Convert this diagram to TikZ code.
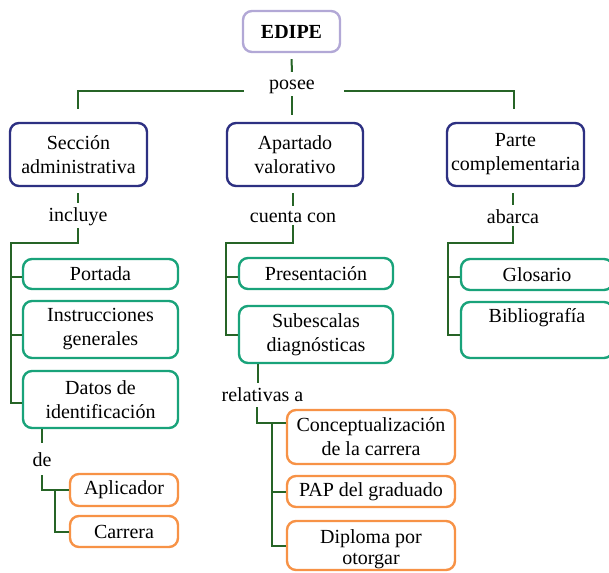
\documentclass[tikz,border=0pt]{standalone}
\usepackage{fontspec}
\setmainfont{Liberation Serif}
\usetikzlibrary{calc}
\definecolor{navyc}{RGB}{45,48,130}
\definecolor{lavc}{RGB}{178,168,214}
\definecolor{tealc}{RGB}{25,163,122}
\definecolor{orangec}{RGB}{247,146,70}
\definecolor{connc}{RGB}{38,100,38}
\tikzset{
  box/.style={draw, rounded corners=9pt, line width=2.4pt, fill=white, align=center, inner sep=0pt,
    font=\fontsize{20}{24}\selectfont},
  topbox/.style={box, draw=lavc},
  navybox/.style={box, draw=navyc},
  tealbox/.style={box, draw=tealc},
  orangebox/.style={box, draw=orangec},
  lbl/.style={inner sep=0pt, font=\fontsize{20}{24}\selectfont},
  conn/.style={draw=connc, line width=2pt}
}
\begin{document}
\begin{tikzpicture}[x=1pt,y=-1pt]
\clip (0,0) rectangle (609,572);
\useasboundingbox (0,0) rectangle (609,572);

% top
\node[topbox, minimum width=97pt, minimum height=41pt, font=\fontsize{20}{24}\selectfont\bfseries] (edipe) at (291.5,31.5) {EDIPE};
\node[lbl] (posee) at (292,87) {posee};

% level 1
\node[navybox, minimum width=137pt, minimum height=63pt] (sec) at (78.5,154.5) {Sección\\administrativa};
\node[navybox, minimum width=136pt, minimum height=63pt] (apa) at (295,154.5) {Apartado\\valorativo};
\node[navybox, minimum width=137pt, minimum height=63pt] (par) at (515.5,154.5) {Parte\\complementaria};

% labels level 2
\node[lbl] (incluye) at (78,217) {incluye};
\node[lbl] (cuenta) at (293,217) {cuenta con};
\node[lbl] (abarca) at (513,217) {abarca};

% left column
\node[tealbox, minimum width=155pt, minimum height=30pt] (portada) at (100.5,274) {Portada};
\node[tealbox, minimum width=155pt, minimum height=57pt] (instr) at (100.5,329.5) {Instrucciones\\generales};
\node[tealbox, minimum width=155pt, minimum height=57pt] (datos) at (100.5,399.5) {Datos de\\identificación};
\node[lbl] (de) at (42,460) {de};
\node[orangebox, minimum width=108pt, minimum height=32pt] (aplic) at (124,490) {Aplicador};
\node[orangebox, minimum width=108pt, minimum height=31pt] (carrera) at (124,531.5) {Carrera};

% middle column
\node[tealbox, minimum width=154pt, minimum height=31pt] (present) at (316,273.5) {Presentación};
\node[tealbox, minimum width=154pt, minimum height=57pt] (subesc) at (316,334.5) {Subescalas\\diagnósticas};
\node[lbl] (relat) at (262.5,395) {relativas a};
\node[orangebox, minimum width=168pt, minimum height=54pt] (concept) at (371,437) {Conceptualización\\de la carrera};
\node[orangebox, minimum width=168pt, minimum height=31pt] (pap) at (371,491.5) {PAP del graduado};
\node[orangebox, minimum width=168pt, minimum height=49pt, text depth=0pt] (diploma) at (371,545.5) {\raisebox{-3pt}{\shortstack{Diploma por\\[2pt]otorgar}}};

% right column
\node[tealbox, minimum width=152pt, minimum height=31pt] (glos) at (537,274.5) {Glosario};
\node[tealbox, minimum width=152pt, minimum height=56pt] (biblio) at (537,330) {};
\node[lbl] (bibliotxt) at (537,318) {Bibliografía};

% bus coordinates
\coordinate (busL) at (11,243);
\coordinate (busM) at (226,243);
\coordinate (busR) at (448,243);
\coordinate (busDe) at (55,489);
\coordinate (busRel) at (272,423);

% connectors: top
\draw[conn] ($(edipe.south)+(0,6)$) -- ($(posee.north)+(0,-8)$);
\draw[conn] ($(sec.north)+(-0.5,-13)$) |- ($(posee.west)+(-25,4)$);
\draw[conn] ($(par.north)+(-1.5,-13)$) |- ($(posee.east)+(29,4)$);
\draw[conn] ($(posee.south)+(0,2)$) -- ($(apa.north)+(-3,-7)$);

% left column connectors
\draw[conn] ($(sec.south)+(-0.5,6)$) -- ($(incluye.north)+(0,-5)$);
\draw[conn] ($(incluye.south)+(0,2)$) |- (busL) |- ($(datos.west)+(0,3)$);
\draw[conn] ($(portada.west)+(0,3)$) -| (busL);
\draw[conn] ($(instr.west)+(0,5)$) -| (busL);
\draw[conn] ($(datos.south)+(-58.5,0)$) -- ($(de.north)+(0,-10)$);
\draw[conn] ($(de.south)+(0,8)$) |- (aplic.west);
\draw[conn] (busDe) |- (carrera.west);

% middle column connectors
\draw[conn] ($(apa.south)+(-2,6)$) -- ($(cuenta.north)+(0,-5)$);
\draw[conn] ($(cuenta.south)+(0,2)$) |- (busM) |- ($(subesc.west)+(0,0.5)$);
\draw[conn] ($(present.west)+(0,3.5)$) -| (busM);
\draw[conn] ($(subesc.south)+(-58,0)$) -- ($(relat.north)+(-4.5,-5)$);
\draw[conn] ($(relat.south)+(-5.5,5)$) |- ($(concept.west)+(0,-14)$);
\draw[conn] (busRel) |- (diploma.west);
\draw[conn] (pap.west) -| (busRel);

% right column connectors
\draw[conn] ($(par.south)+(-2.5,6)$) -- ($(abarca.north)+(0,-5)$);
\draw[conn] ($(abarca.south)+(0,2)$) |- (busR) |- ($(biblio.west)+(0,5)$);
\draw[conn] ($(glos.west)+(0,2.5)$) -| (busR);
\end{tikzpicture}
\end{document}
